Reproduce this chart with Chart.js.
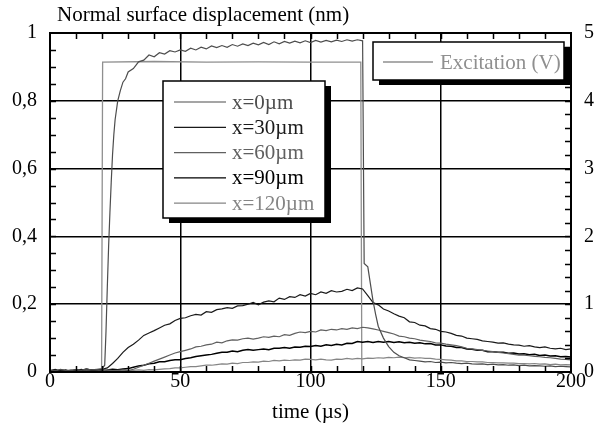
<!DOCTYPE html>
<html><head><meta charset="utf-8">
<script src="https://cdn.jsdelivr.net/npm/chart.js@4"></script>
<style>html,body{margin:0;padding:0;background:#fff}canvas{display:block}</style>
</head><body>
<canvas id="c" width="595" height="425"></canvas>
<script>
// ---- data ----
const chartTitle = 'Normal surface displacement (nm)';
const xAxisTitle = 'time (\u00b5s)';
const seriesLabels = ['x=0\u00b5m', 'x=30\u00b5m', 'x=60\u00b5m', 'x=90\u00b5m', 'x=120\u00b5m'];
const excitationLabel = 'Excitation (V)';
const yTickLabels = ['0', '0,2', '0,4', '0,6', '0,8', '1'];
const y2TickLabels = ['0', '1', '2', '3', '4', '5'];
const xTickLabels = ['0', '50', '100', '150', '200'];

const time2 = [0,2,4,6,8,10,12,14,16,18,20,22,24,26,28,30,32,34,36,38,40,42,44,46,48,50,52,54,56,58,60,62,64,66,68,70,72,74,76,78,80,82,84,86,88,90,92,94,96,98,100,102,104,106,108,110,112,114,116,118,120,122,124,126,128,130,132,134,136,138,140,142,144,146,148,150,152,154,156,158,160,162,164,166,168,170,172,174,176,178,180,182,184,186,188,190,192,194,196,198,200];

const x30 = [0.004,0.008,0.003,0.006,0.002,0.007,0.004,0.009,0.005,0.006,0.008,
  0.012,0.025,0.04,0.058,0.072,0.082,0.094,0.108,0.115,0.122,0.13,0.138,0.142,0.152,0.158,
  0.16,0.166,0.17,0.168,0.178,0.176,0.184,0.186,0.19,0.188,0.195,0.196,0.2,0.205,0.198,0.206,0.21,0.207,0.218,0.214,0.222,0.22,0.228,0.224,0.232,
  0.228,0.236,0.232,0.24,0.236,0.238,0.244,0.24,0.248,0.245,0.225,0.205,0.198,0.186,0.18,0.172,0.165,0.16,0.148,0.146,0.138,0.136,0.128,0.126,0.12,
  0.118,0.114,0.108,0.106,0.1,0.098,0.096,0.092,0.09,0.088,0.085,0.086,0.082,0.08,0.079,0.076,0.078,0.074,0.072,0.074,0.07,0.068,0.07,0.066,0.068];

const x60 = [0.003,0.006,0.002,0.005,0.004,0.007,0.003,0.006,0.004,0.005,0.003,0.006,0.004,0.005,0.006,0.004,
  0.008,0.014,0.02,0.026,0.032,0.038,0.044,0.05,0.056,0.06,
  0.064,0.068,0.074,0.076,0.08,0.082,0.088,0.086,0.092,0.095,0.094,0.098,0.1,0.097,0.1,0.104,0.102,0.106,0.104,0.11,0.108,0.114,0.118,0.116,0.12,
  0.118,0.124,0.122,0.126,0.124,0.128,0.126,0.13,0.128,0.132,0.13,0.127,0.124,0.12,0.116,0.112,0.106,0.104,0.1,0.098,0.094,0.092,0.09,0.086,0.085,
  0.082,0.08,0.078,0.074,0.07,0.068,0.066,0.064,0.062,0.06,0.058,0.056,0.054,0.052,0.05,0.05,0.048,0.046,0.045,0.043,0.042,0.04,0.038,0.037,0.036];

const x90 = [0.004,0.002,0.006,0.003,0.005,0.004,0.007,0.003,0.006,0.004,0.005,0.006,0.008,0.007,0.009,
  0.01,0.014,0.018,0.02,0.024,0.026,0.03,0.03,0.034,0.036,0.036,
  0.04,0.042,0.046,0.048,0.05,0.052,0.055,0.058,0.058,0.062,0.06,0.064,0.066,0.064,0.066,0.068,0.066,0.07,0.07,0.072,0.07,0.074,0.073,0.076,0.075,
  0.078,0.076,0.08,0.078,0.082,0.08,0.085,0.084,0.09,0.088,0.09,0.087,0.09,0.088,0.09,0.087,0.089,0.086,0.088,0.085,0.086,0.083,0.084,0.08,0.08,
  0.077,0.076,0.072,0.072,0.068,0.067,0.064,0.064,0.06,0.06,0.058,0.058,0.055,0.056,0.053,0.054,0.051,0.052,0.049,0.05,0.047,0.048,0.045,0.046,0.044];

const x120 = [0.003,0.005,0.002,0.004,0.003,0.005,0.002,0.004,0.003,0.005,0.004,0.003,0.005,0.004,0.006,0.004,0.005,0.006,0.005,0.007,0.006,
  0.008,0.009,0.01,0.012,0.012,
  0.014,0.016,0.016,0.018,0.02,0.02,0.022,0.024,0.023,0.026,0.025,0.028,0.028,0.03,0.029,0.032,0.031,0.034,0.033,0.035,0.034,0.036,0.035,0.038,0.037,
  0.036,0.038,0.036,0.035,0.038,0.037,0.04,0.038,0.04,0.039,0.041,0.04,0.042,0.041,0.043,0.042,0.044,0.042,0.043,0.041,0.042,0.04,0.04,0.038,0.037,
  0.036,0.035,0.033,0.033,0.031,0.031,0.03,0.03,0.028,0.028,0.027,0.027,0.026,0.026,0.025,0.025,0.024,0.025,0.023,0.024,0.022,0.023,0.021,0.022,0.021];

const time0 = [0,2,4,6,8,10,12,14,16,18,20,
  21,21.5,22,22.5,23,23.5,24,24.5,25,26,27,28,29,30,
  32,34,36,38,40,42,44,46,48,50,52,54,56,58,60,62,64,66,68,70,72,74,76,78,80,82,84,86,88,90,92,94,96,98,100,102,104,106,108,110,112,114,116,118,120,
  120.6,122,123,124,125,126,128,130,132,134,136,138,140,
  142,144,146,148,150,152,154,156,158,160,162,164,166,168,170,172,174,176,178,180,182,184,186,188,190,192,194,196,198,200];
const x0 = [0.006,0.003,0.008,0.005,0.004,0.007,0.005,0.009,0.006,0.008,0.01,
  0.02,0.12,0.25,0.37,0.47,0.56,0.64,0.7,0.745,0.8,0.83,0.855,0.865,0.885,
  0.895,0.915,0.92,0.935,0.93,0.942,0.938,0.948,0.944,0.95,0.946,0.955,0.95,0.958,0.953,0.962,0.957,0.963,0.958,0.966,0.961,0.968,0.963,0.97,0.965,0.972,0.966,0.974,0.968,0.975,0.97,0.976,0.971,0.977,0.972,0.978,0.973,0.978,0.974,0.979,0.975,0.98,0.976,0.98,0.977,
  0.32,0.31,0.26,0.21,0.17,0.135,0.1,0.075,0.058,0.048,0.042,0.036,0.034,
  0.032,0.03,0.031,0.028,0.029,0.027,0.028,0.026,0.025,0.026,0.024,0.023,0.024,0.022,0.023,0.021,0.022,0.02,0.021,0.019,0.02,0.018,0.019,0.018,0.017,0.018,0.016,0.017,0.016,0.015];

const timeExc = [0, 19.8, 20.2, 40, 60, 80, 100, 119.3, 119.7, 200];
const excitation = [0, 0, 4.57, 4.58, 4.57, 4.575, 4.57, 4.57, 0, 0];

// ---- build ----
const FONT = "'Liberation Serif', 'Times New Roman', serif";
const pts = (t, v) => t.map((x, i) => ({x, y: v[i]}));
const colors = ['#4d4d4d', '#1a1a1a', '#606060', '#000000', '#858585'];
const widths = [1.2, 1.2, 1.2, 1.5, 1.2];
const series = [x0, x30, x60, x90, x120];
const times = [time0, time2, time2, time2, time2];

const datasets = series.map((v, i) => ({
  label: seriesLabels[i], data: pts(times[i], v), yAxisID: 'y',
  borderColor: colors[i], borderWidth: widths[i]
}));
datasets.push({label: excitationLabel, data: pts(timeExc, excitation), yAxisID: 'y2',
  borderColor: '#8f8f8f', borderWidth: 1.3});

const decor = {
  id: 'decor',
  afterDatasetsDraw(chart) {
    const {ctx, chartArea: a, scales} = chart;
    ctx.save();
    ctx.strokeStyle = '#000';
    ctx.lineWidth = 2;
    ctx.strokeRect(a.left, a.top, a.right - a.left, a.bottom - a.top);
    ctx.lineWidth = 1.5;
    ctx.beginPath();
    for (let t = 10; t < 200; t += 10) {
      const px = Math.round(scales.x.getPixelForValue(t)) + 0.5;
      ctx.moveTo(px, a.bottom); ctx.lineTo(px, a.bottom - 6);
      ctx.moveTo(px, a.top); ctx.lineTo(px, a.top + 6);
    }
    for (let k = 1; k < 20; k++) {
      const py = Math.round(scales.y.getPixelForValue(k * 0.05)) + 0.5;
      ctx.moveTo(a.left, py); ctx.lineTo(a.left + 6, py);
    }
    for (let k = 1; k < 25; k++) {
      const py = Math.round(scales.y2.getPixelForValue(k * 0.2)) + 0.5;
      ctx.moveTo(a.right, py); ctx.lineTo(a.right - 6, py);
    }
    ctx.stroke();

    const box = (x1, y1, x2, y2) => {
      ctx.fillStyle = '#000';
      ctx.fillRect(x1 + 6, y1 + 5, x2 - x1, y2 - y1);
      ctx.fillStyle = '#fff';
      ctx.fillRect(x1, y1, x2 - x1, y2 - y1);
      ctx.lineWidth = 1.5;
      ctx.strokeStyle = '#000';
      ctx.strokeRect(x1, y1, x2 - x1, y2 - y1);
    };
    ctx.font = '21px ' + FONT;
    ctx.textBaseline = 'middle';
    ctx.textAlign = 'left';
    // main legend
    box(163, 81, 325, 218);
    const ds = chart.data.datasets;
    for (let i = 0; i < 5; i++) {
      const y = 102 + i * 25.3;
      ctx.strokeStyle = ds[i].borderColor;
      ctx.lineWidth = 1.2;
      ctx.beginPath(); ctx.moveTo(174, y); ctx.lineTo(226, y); ctx.stroke();
      ctx.fillStyle = ds[i].borderColor;
      ctx.fillText(ds[i].label, 232, y + 1);
    }
    // excitation legend
    box(373, 42, 564, 80);
    ctx.strokeStyle = ds[5].borderColor;
    ctx.lineWidth = 1.3;
    ctx.beginPath(); ctx.moveTo(383, 62); ctx.lineTo(433, 62); ctx.stroke();
    ctx.fillStyle = ds[5].borderColor;
    ctx.fillText(ds[5].label, 440, 63);

    // chart title
    ctx.fillStyle = '#000';
    ctx.font = '21px ' + FONT;
    ctx.fillText(chartTitle, 57, 15);
    ctx.restore();
  }
};

new Chart(document.getElementById('c'), {
  type: 'line',
  data: {datasets},
  plugins: [decor],
  options: {
    responsive: false, animation: false,
    layout: {padding: {top: 33, left: 0, right: 0, bottom: 0}},
    plugins: {legend: {display: false}, tooltip: {enabled: false}, title: {display: false}},
    elements: {point: {radius: 0}, line: {tension: 0}},
    scales: {
      x: {
        type: 'linear', min: 0, max: 200, position: 'bottom',
        ticks: {stepSize: 50, color: '#000', padding: 0, maxRotation: 0, autoSkip: false,
          font: {family: FONT, size: 20, lineHeight: 1},
          callback: (v) => xTickLabels[Math.round(v / 50)]},
        grid: {color: '#000', lineWidth: 1.5, drawTicks: false},
        border: {display: false},
        title: {display: true, text: xAxisTitle, color: '#000', font: {family: FONT, size: 21}, padding: {top: 0, bottom: 0}},
        afterFit: (s) => { s.height = 53; }
      },
      y: {
        type: 'linear', min: 0, max: 1, position: 'left',
        ticks: {stepSize: 0.2, color: '#000', padding: 13, font: {family: FONT, size: 20},
          callback: (v) => yTickLabels[Math.round(v * 5)]},
        grid: {color: '#000', lineWidth: 1.5, drawTicks: false},
        border: {display: false},
        afterFit: (s) => { s.width = 50; }
      },
      y2: {
        type: 'linear', min: 0, max: 5, position: 'right',
        ticks: {stepSize: 1, color: '#000', padding: 13, font: {family: FONT, size: 20},
          callback: (v) => y2TickLabels[Math.round(v)]},
        grid: {display: false, drawTicks: false},
        border: {display: false},
        afterFit: (s) => { s.width = 24; }
      }
    }
  }
});
</script></body></html>
